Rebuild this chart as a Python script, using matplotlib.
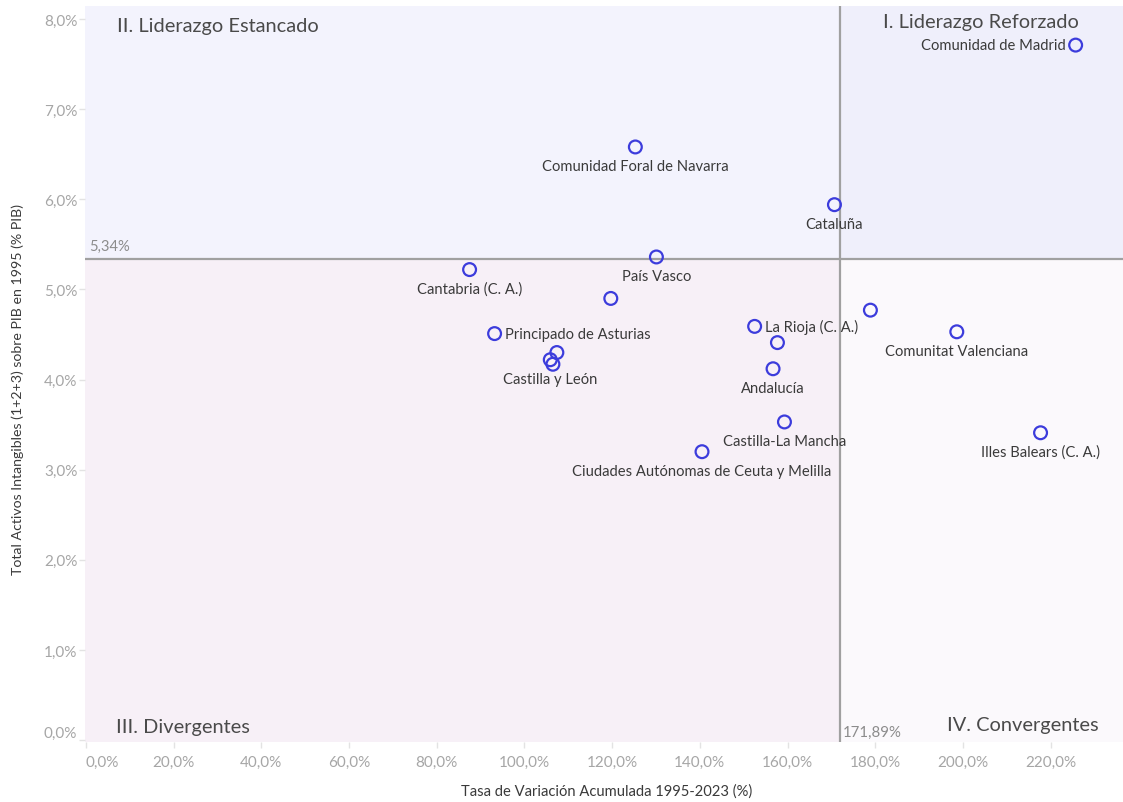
import matplotlib
matplotlib.use("Agg")
import matplotlib.pyplot as plt
from matplotlib.ticker import FuncFormatter

plt.rcParams['font.family'] = ['Lato', 'DejaVu Sans']

# ---------------- data ----------------
regions = [
    "Comunidad de Madrid", "Comunidad Foral de Navarra", "Cataluña", "País Vasco",
    "Cantabria (C. A.)", "Aragón", "Principado de Asturias", "Galicia",
    "Castilla y León", "Extremadura", "La Rioja (C. A.)", "Región de Murcia",
    "Andalucía", "Castilla-La Mancha", "Ciudades Autónomas de Ceuta y Melilla",
    "Canarias", "Comunitat Valenciana", "Illes Balears (C. A.)",
]
growth = [225.7, 125.3, 170.7, 130.1, 87.5, 119.7, 93.2, 107.4, 105.9, 106.5,
          152.5, 157.7, 156.7, 159.3, 140.5, 178.9, 198.6, 217.7]
intangibles = [7.71, 6.58, 5.94, 5.36, 5.22, 4.90, 4.51, 4.30, 4.22, 4.17,
               4.59, 4.41, 4.12, 3.53, 3.20, 4.77, 4.53, 3.41]
# label placement: None = hidden, 'below', 'right', 'left'
label_pos = ['left', 'below', 'below', 'below', 'below', None, 'right', None,
             'below', None, 'right', None, 'below', 'below', 'below', None,
             'below', 'below']

x_ref = 171.89
y_ref = 5.34
x_ticks = [0, 20, 40, 60, 80, 100, 120, 140, 160, 180, 200, 220]
y_ticks = [0, 1, 2, 3, 4, 5, 6, 7, 8]

quadrant_titles = ["I. Liderazgo Reforzado", "II. Liderazgo Estancado",
                   "III. Divergentes", "IV. Convergentes"]

# ---------------- figure ----------------
W, H = 1123, 803
fig = plt.figure(figsize=(W / 100, H / 100), dpi=100)
ax = fig.add_axes([85 / W, 1 - 743 / H, (W - 85) / W, (743 - 6.7) / H])

xmin, xmax = -0.2, 236.5
ymin, ymax = -0.02, 8.147
ax.set_xlim(xmin, xmax)
ax.set_ylim(ymin, ymax)

# quadrant backgrounds
ax.fill_between([xmin, x_ref], y_ref, ymax, color="#f3f3fd", lw=0, zorder=0)
ax.fill_between([x_ref, xmax], y_ref, ymax, color="#efeffb", lw=0, zorder=0)
ax.fill_between([xmin, x_ref], ymin, y_ref, color="#f7f0f7", lw=0, zorder=0)
ax.fill_between([x_ref, xmax], ymin, y_ref, color="#fbf9fc", lw=0, zorder=0)

# reference lines
ax.axvline(x_ref, color="#a0a0a0", lw=1.6, zorder=1)
ax.axhline(y_ref, color="#a0a0a0", lw=1.6, zorder=1)
ax.text(0.8, y_ref + 0.06, "5,34%", color="#8c8c8c", fontsize=10.6,
        ha="left", va="bottom")
ax.text(x_ref + 0.8, 0.02, "171,89%", color="#8c8c8c", fontsize=10.8,
        ha="left", va="bottom")

# points
ax.scatter(growth, intangibles, s=85, facecolors="none",
           edgecolors="#3c3cdc", linewidths=1.6, zorder=3)

for name, gx, gy, pos in zip(regions, growth, intangibles, label_pos):
    if pos is None:
        continue
    if pos == 'below':
        off, ha, va = (0, -12), 'center', 'top'
    elif pos == 'right':
        off, ha, va = (10, 0), 'left', 'center'
    else:
        off, ha, va = (-10, 0), 'right', 'center'
    ax.annotate(name, (gx, gy), xytext=off, textcoords='offset pixels',
                ha=ha, va=va, fontsize=10.6, color="#3a3a3a", zorder=4)

# quadrant titles
qcol = "#4a4a4a"
ax.text(226.4, 7.97, quadrant_titles[0], fontsize=14.4, color=qcol, ha="right", va="center")
ax.text(7.0, 7.93, quadrant_titles[1], fontsize=14.4, color=qcol, ha="left", va="center")
ax.text(6.8, 0.157, quadrant_titles[2], fontsize=14.4, color=qcol, ha="left", va="center")
ax.text(231.0, 0.17, quadrant_titles[3], fontsize=14.4, color=qcol, ha="right", va="center")

# axes styling
for s in ax.spines.values():
    s.set_visible(False)
ax.set_xticks(x_ticks)
ax.set_yticks(y_ticks)
ax.xaxis.set_major_formatter(FuncFormatter(lambda v, p: f"{v:.1f}%".replace(".", ",")))
ax.yaxis.set_major_formatter(FuncFormatter(lambda v, p: f"{v:.1f}%".replace(".", ",")))
ax.tick_params(axis="both", colors="#e3e3e3", labelcolor="#a6a6a6",
               labelsize=11, length=4.5, width=1)
ax.tick_params(axis="x", pad=5)
ax.tick_params(axis="y", pad=1)
xl = ax.get_xticklabels()
xl[0].set_ha("left")
yl = ax.get_yticklabels()
yl[0].set_va("bottom")

fig.text(607 / W, 1 - 792 / H, "Tasa de Variación Acumulada 1995-2023 (%)",
         fontsize=10.6, color="#3a3a3a", ha="center", va="center")
fig.text(18 / W, 1 - 390 / H,
         "Total Activos Intangibles (1+2+3) sobre PIB en 1995 (% PIB)",
         fontsize=10.2, color="#3a3a3a", ha="center", va="center", rotation=90)

fig.savefig("out.png", dpi=100)
